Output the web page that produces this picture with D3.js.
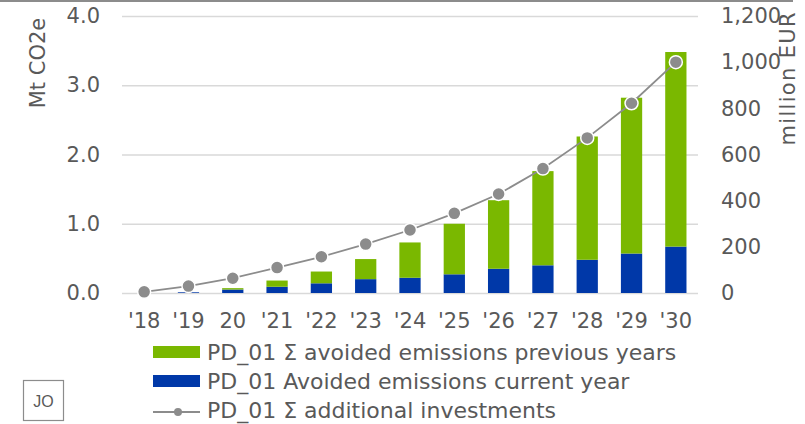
<!DOCTYPE html>
<html>
<head>
<meta charset="utf-8">
<script src="https://cdn.jsdelivr.net/npm/d3@7/dist/d3.min.js"></script>
<style>
  html, body { margin: 0; padding: 0; background: #fff; }
  svg text { font-family: "DejaVu Sans", Verdana, sans-serif; fill: #595959; }
</style>
</head>
<body>
<svg id="chart" width="805" height="424"></svg>
<script>
// Years on the category axis
const years = ["'18", "'19", "20", "'21", "'22", "'23", "'24", "'25", "'26", "'27", "'28", "'29", "'30"];
// Avoided emissions in the current year (Mt CO2e)
const currentYear = [0.00, 0.01, 0.05, 0.09, 0.14, 0.20, 0.22, 0.27, 0.35, 0.40, 0.48, 0.57, 0.67];
// Cumulative avoided emissions from previous years (Mt CO2e)
const previousYears = [0.00, 0.00, 0.02, 0.09, 0.17, 0.29, 0.51, 0.73, 0.99, 1.36, 1.78, 2.25, 2.81];
// Cumulative additional investments (million EUR)
const investments = [5, 30, 64, 110, 157, 212, 273, 345, 429, 539, 672, 822, 1000];
// Axis ticks
const leftTicks = [0, 1, 2, 3, 4];
const rightTicks = [0, 200, 400, 600, 800, 1000, 1200];
// Legend entries
const legendLabels = [
  "PD_01 \u03A3 avoided emissions previous years",
  "PD_01 Avoided emissions current year",
  "PD_01 \u03A3 additional investments"
];

const colors = { prev: "#7ab800", curr: "#0038a8", line: "#8c8c8c", grid: "#d9d9d9" };
const tickFont = 21;

const svg = d3.select("#chart");
const plot = { left: 122, right: 698, top: 16, bottom: 293 };

const x = d3.scaleBand().domain(years).range([plot.left, plot.right]).paddingInner(0.52).paddingOuter(0.26);
const yL = d3.scaleLinear().domain([0, 4]).range([plot.bottom, plot.top]);
const yR = d3.scaleLinear().domain([0, 1200]).range([plot.bottom, plot.top]);

// top border
svg.append("rect").attr("x", 0).attr("y", 0).attr("width", 793).attr("height", 2).attr("fill", "#8c8c8c");

// gridlines
svg.append("g").selectAll("line").data(leftTicks).join("line")
  .attr("x1", plot.left).attr("x2", plot.right)
  .attr("y1", d => yL(d) + 0.5).attr("y2", d => yL(d) + 0.5)
  .attr("stroke", colors.grid).attr("stroke-width", 1.5);

function styleTicks(g) {
  g.select(".domain").remove();
  g.selectAll("text").attr("font-size", tickFont).style("font-family", "DejaVu Sans").attr("fill", "#595959");
}

// left axis
svg.append("g").attr("transform", `translate(${plot.left},0)`)
  .call(d3.axisLeft(yL).tickValues(leftTicks).tickFormat(d3.format(".1f")).tickSize(0).tickPadding(22))
  .call(styleTicks);

// right axis
svg.append("g").attr("transform", `translate(${plot.right},0)`)
  .call(d3.axisRight(yR).tickValues(rightTicks).tickFormat(d3.format(",")).tickSize(0).tickPadding(23))
  .call(styleTicks);

// bottom axis
svg.append("g").attr("transform", `translate(0,${plot.bottom})`)
  .call(d3.axisBottom(x).tickSize(0).tickPadding(20))
  .call(styleTicks);

// axis titles
svg.append("text").attr("transform", "translate(45,63) rotate(-90)")
  .attr("text-anchor", "middle").attr("font-size", 21).text("Mt CO2e");
svg.append("text").attr("transform", "translate(795,79) rotate(-90)")
  .attr("text-anchor", "middle").attr("font-size", 21)
  .attr("textLength", 133).attr("lengthAdjust", "spacing").text("million EUR");

// stacked bars
const bars = svg.append("g");
bars.selectAll(".curr").data(years).join("rect").attr("class", "curr")
  .attr("x", d => x(d)).attr("width", x.bandwidth())
  .attr("y", (d, i) => yL(currentYear[i]))
  .attr("height", (d, i) => yL(0) - yL(currentYear[i]))
  .attr("fill", colors.curr);
bars.selectAll(".prev").data(years).join("rect").attr("class", "prev")
  .attr("x", d => x(d)).attr("width", x.bandwidth())
  .attr("y", (d, i) => yL(currentYear[i] + previousYears[i]))
  .attr("height", (d, i) => yL(currentYear[i]) - yL(currentYear[i] + previousYears[i]))
  .attr("fill", colors.prev);

// investment line
const pts = years.map((d, i) => [x(d) + x.bandwidth() / 2, yR(investments[i])]);
svg.append("path").attr("d", d3.line()(pts)).attr("fill", "none")
  .attr("stroke", colors.line).attr("stroke-width", 1.8);
svg.append("g").selectAll("circle").data(pts).join("circle")
  .attr("cx", d => d[0]).attr("cy", d => d[1]).attr("r", 6.5)
  .attr("fill", colors.line).attr("stroke", "#fff").attr("stroke-width", 1.5);

// legend
const lg = svg.append("g");
const rowY = [352, 381, 410];
lg.append("rect").attr("x", 153).attr("y", 346).attr("width", 47).attr("height", 12).attr("fill", colors.prev);
lg.append("rect").attr("x", 153).attr("y", 375).attr("width", 47).attr("height", 12).attr("fill", colors.curr);
lg.append("line").attr("x1", 153).attr("x2", 200).attr("y1", 412).attr("y2", 412)
  .attr("stroke", colors.line).attr("stroke-width", 1.8);
lg.append("circle").attr("cx", 178).attr("cy", 412).attr("r", 4).attr("fill", colors.line);
lg.selectAll("text").data(legendLabels).join("text")
  .attr("x", 207).attr("y", (d, i) => rowY[i]).attr("dy", "0.35em")
  .attr("font-size", 22).text(d => d);

// initials box
svg.append("rect").attr("x", 23.5).attr("y", 380.5).attr("width", 40).attr("height", 40)
  .attr("fill", "#fff").attr("stroke", "#8c8c8c").attr("stroke-width", 1.2);
svg.append("text").attr("x", 43.5).attr("y", 401).attr("dy", "0.35em").attr("text-anchor", "middle")
  .attr("font-size", 16).style("font-family", "Liberation Sans, Arial, sans-serif").attr("fill", "#000").text("JO");
</script>
</body>
</html>
